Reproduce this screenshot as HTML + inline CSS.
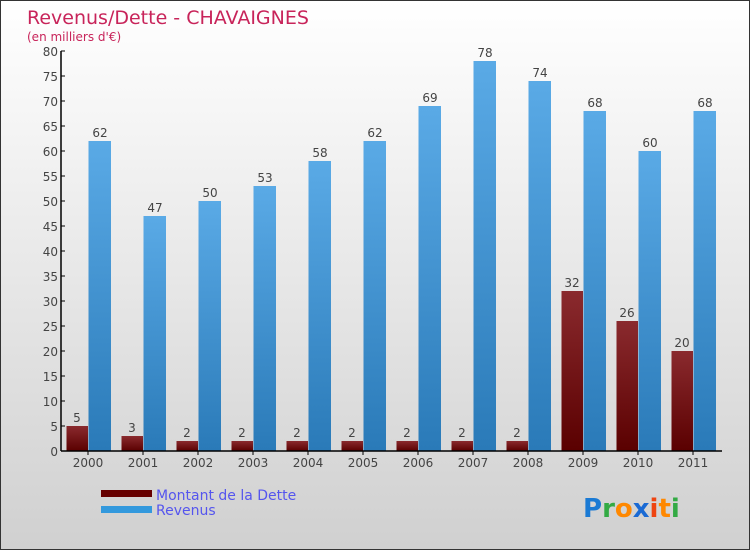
<!DOCTYPE html>
<html><head><meta charset="utf-8"><style>
body{margin:0;}
#wrap{position:relative;width:748px;height:548px;border:1px solid #333;background:linear-gradient(#ffffff,#d0d0d0);font-family:"DejaVu Sans","Liberation Sans",sans-serif;overflow:hidden;}
</style></head><body>
<div id="wrap">
<svg id="chart" width="748" height="548" style="position:absolute;left:0;top:0">
<defs>
<linearGradient id="gd" x1="0" y1="0" x2="0" y2="1"><stop offset="0" stop-color="#8a2a2e"/><stop offset="1" stop-color="#5a0000"/></linearGradient>
<linearGradient id="gr" x1="0" y1="0" x2="0" y2="1"><stop offset="0" stop-color="#5aaae6"/><stop offset="1" stop-color="#2a7ab8"/></linearGradient>
</defs>
<text x="26" y="23" font-size="19" fill="#c8245a">Revenus/Dette - CHAVAIGNES</text>
<text x="26" y="40" font-size="12" fill="#c8245a">(en milliers d'€)</text>
<g id="bars"></g>
<g id="axes"></g>
<rect x="100" y="489" width="51" height="7" fill="#660000"/>
<rect x="100" y="505" width="51" height="7" fill="#3399dd"/>
<text x="155" y="499" font-size="14" fill="#5555ee">Montant de la Dette</text>
<text x="155" y="514" font-size="14" fill="#5555ee">Revenus</text>
<g font-size="26" font-family="'DejaVu Sans',sans-serif" font-weight="bold">
<text x="582" y="516"><tspan fill="#1a7ad4">P</tspan><tspan fill="#33aa44">r</tspan><tspan fill="#ff8800">o</tspan><tspan fill="#1a6ad4">x</tspan><tspan fill="#ee4411">i</tspan><tspan fill="#ff8800">t</tspan><tspan fill="#33aa44">i</tspan></text>
</g>
</svg>
</div>
<script>
const years=["2000","2001","2002","2003","2004","2005","2006","2007","2008","2009","2010","2011"];
const dette=[5,3,2,2,2,2,2,2,2,32,26,20];
const revenus=[62,47,50,53,58,62,69,78,74,68,60,68];
const yTicks=[0,5,10,15,20,25,30,35,40,45,50,55,60,65,70,75,80];
const NS="http://www.w3.org/2000/svg";
const y0=450,pxPer=5,x0=60,xStart=87,step=55;
function yS(v){return y0-v*pxPer;}
function xC(i){return xStart+i*step;}
function mk(tag,attrs,parent){const e=document.createElementNS(NS,tag);for(const k in attrs)e.setAttribute(k,attrs[k]);parent.appendChild(e);return e;}
const bars=document.getElementById('bars'),axes=document.getElementById('axes');
years.forEach((yr,i)=>{
  const c=xC(i);
  let r=mk('rect',{x:c-21.5,y:yS(dette[i]),width:21.5,height:dette[i]*pxPer,fill:'url(#gd)'},bars);
  
  
  let t=mk('text',{x:c-11,y:yS(dette[i])-4,'font-size':12,fill:'#444','text-anchor':'middle'},bars);t.textContent=dette[i];
  
  
  r=mk('rect',{x:c+0.5,y:yS(revenus[i]),width:22.5,height:revenus[i]*pxPer,fill:'url(#gr)'},bars);
  
  
  t=mk('text',{x:c+12,y:yS(revenus[i])-4,'font-size':12,fill:'#444','text-anchor':'middle'},bars);t.textContent=revenus[i];
  
  
  const tk=mk('line',{x1:c,x2:c,y1:y0,y2:y0+4,stroke:'#000'},axes);
  
  
  t=mk('text',{x:c,y:y0+16,'font-size':12,fill:'#444','text-anchor':'middle'},axes);t.textContent=yr;
  
  
});
yTicks.forEach(v=>{
  const l=mk('line',{x1:x0,x2:x0+4,y1:yS(v),y2:yS(v),stroke:'#000'},axes);
  
  
  const t=mk('text',{x:x0-3,y:yS(v)+5,'font-size':12,fill:'#444','text-anchor':'end'},axes);t.textContent=v;
  
  
});
let ax=mk('line',{x1:x0,x2:x0,y1:yS(80),y2:y0,stroke:'#000','stroke-width':1.5},axes);


ax=mk('line',{x1:x0,x2:721,y1:y0,y2:y0,stroke:'#000','stroke-width':1.5},axes);


</script>
</body></html>
